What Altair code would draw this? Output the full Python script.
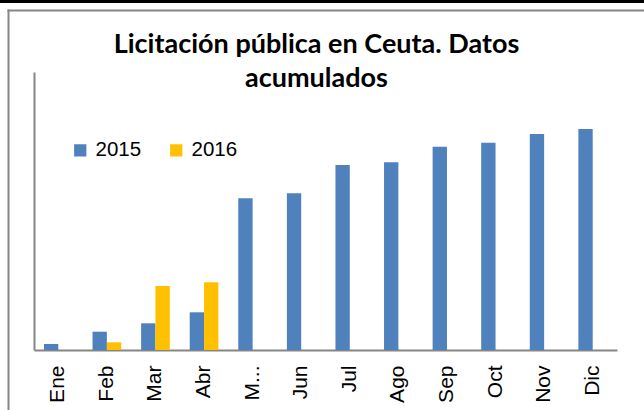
import altair as alt
import pandas as pd

months = ["Ene", "Feb", "Mar", "Abr", "May", "Jun", "Jul", "Ago", "Sep", "Oct", "Nov", "Dic"]
values_2015 = [6, 18.3, 26.7, 37.7, 151.7, 156.7, 185, 187.7, 203.3, 207.3, 216, 221]
months_2016 = ["Feb", "Mar", "Abr"]
values_2016 = [7.7, 64, 67.7]

rows = [{"mes": m, "serie": "2015", "valor": v} for m, v in zip(months, values_2015)]
rows += [{"mes": m, "serie": "2016", "valor": v} for m, v in zip(months_2016, values_2016)]
df = pd.DataFrame(rows)

W, H = 583, 278

bars = alt.Chart(df).mark_bar(strokeWidth=0).encode(
    x=alt.X("mes:N", sort=months,
            scale=alt.Scale(paddingInner=0.41, paddingOuter=0.205),
            axis=alt.Axis(title=None, labelAngle=270, labelAlign="right", labelBaseline="middle",
                          labelPadding=15, ticks=False, domainColor="#868686", domainWidth=2,
                          labelFont="Liberation Sans", labelFontSize=21, labelColor="#000000",
                          labelExpr="datum.label == 'May' ? 'M...' : datum.label")),
    xOffset=alt.XOffset("serie:N", scale=alt.Scale(paddingInner=0, paddingOuter=0)),
    y=alt.Y("valor:Q", scale=alt.Scale(domain=[0, 278], nice=False, zero=True),
            axis=alt.Axis(title=None, labels=False, ticks=False, grid=False,
                          domainColor="#868686", domainWidth=2)),
    color=alt.Color("serie:N",
                    scale=alt.Scale(domain=["2015", "2016"], range=["#4F81BD", "#FFC000"]),
                    legend=alt.Legend(title=None, orient="none", direction="horizontal",
                                      legendX=36, legendY=68, symbolType="square",
                                      symbolSize=150, symbolStrokeWidth=0,
                                      labelFont="Liberation Sans", labelFontSize=20.5,
                                      labelColor="#000000", labelOffset=5, columnPadding=24,
                                      padding=0)),
)

frame = alt.Chart(pd.DataFrame({"k": [0]}))
top_band = frame.mark_rule(color="#000000", strokeWidth=3).encode(
    x=alt.value(-40), x2=alt.value(W + 40), y=alt.value(-70.5))
gray_top = frame.mark_rule(color="#868686", strokeWidth=2).encode(
    x=alt.value(-26.5), x2=alt.value(W + 40), y=alt.value(-61.5))
gray_left = frame.mark_rule(color="#868686", strokeWidth=2).encode(
    x=alt.value(-25.5), y=alt.value(-62.5), y2=alt.value(H + 80))

chart = alt.layer(bars, top_band, gray_top, gray_left).properties(
    width=W, height=H,
    title=alt.TitleParams(text=["Licitación pública en Ceuta. Datos", "acumulados"],
                          font="Lato", fontSize=27, fontWeight="bold", color="#000000",
                          anchor="middle", frame="group", lineHeight=34, offset=-93, dx=-9),
    autosize=alt.AutoSizeParams(type="none"),
    padding={"left": 34, "top": 72, "right": 27, "bottom": 60},
).configure(background="#ffffff").configure_view(stroke=None)

chart.save("out.html", embed_options={"renderer": "svg", "actions": False})
